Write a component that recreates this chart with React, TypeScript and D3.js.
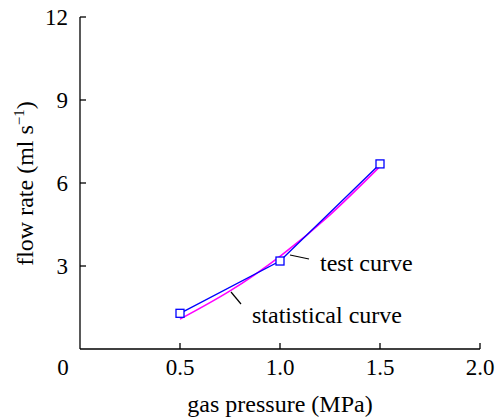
import React from "react";
import * as d3 from "d3";

const testX = [0.5, 1.0, 1.5];
const testY = [1.29, 3.18, 6.69];
const statX = [0.5, 0.75, 1.0, 1.25, 1.5];
const statY = [1.08, 2.1, 3.35, 4.85, 6.6];
const xTicks = [0.5, 1.0, 1.5, 2.0];
const yTicks = [3, 6, 9, 12];

const FS = { fontFamily: `"Liberation Serif"` };

export default function App() {
  const W = 496, H = 418;
  const x = d3.scaleLinear().domain([0, 2]).range([80, 480]);
  const y = d3.scaleLinear().domain([0, 12]).range([349, 17]);
  const line = d3.line<[number, number]>().x(d => x(d[0])).y(d => y(d[1]));
  const curve = d3.line<[number, number]>().x(d => x(d[0])).y(d => y(d[1])).curve(d3.curveNatural);
  const testPts = testX.map((v, i) => [v, testY[i]] as [number, number]);
  const statPts = statX.map((v, i) => [v, statY[i]] as [number, number]);
  return (
    <svg width={W} height={H} style={{ position: "absolute", left: 0, top: 0 }}>
      <rect width={W} height={H} fill="#fff" />
      <g stroke="#000" strokeWidth={1.3} fill="none">
        <line x1={x(0)} x2={x(0)} y1={y(12)} y2={y(0)} />
        <line x1={x(0)} x2={x(2)} y1={y(0)} y2={y(0)} />
        {yTicks.map(t => <line key={t} x1={x(0)} x2={x(0) + 6} y1={y(t)} y2={y(t)} />)}
        {xTicks.map(t => <line key={t} x1={x(t)} x2={x(t)} y1={y(0)} y2={y(0) - 6} />)}
      </g>
      <g fill="#000">
        {yTicks.map(t => (
          <text key={t} style={FS} fontSize={23} x={x(0) - 12} y={y(t)} dy="0.33em" textAnchor="end">{t}</text>
        ))}
        {xTicks.map(t => (
          <text key={t} style={FS} fontSize={23} x={x(t)} y={y(0) + 26} textAnchor="middle">{t.toFixed(1)}</text>
        ))}
        <text style={FS} fontSize={23} x={x(0) - 17} y={y(0) + 26} textAnchor="middle">0</text>
        <text style={FS} x={280} y={412} textAnchor="middle" fontSize={24}>gas pressure (MPa)</text>
        <text style={FS} transform={`translate(33,183.5) rotate(-90)`} textAnchor="middle" fontSize={24}>
          flow rate (ml s<tspan dy={-9} fontSize={15}>−1</tspan><tspan dy={9}>)</tspan>
        </text>
        <text style={FS} x={320} y={271} fontSize={24}>test curve</text>
        <text style={FS} x={252} y={323} fontSize={24}>statistical curve</text>
      </g>
      <g stroke="#000" strokeWidth={1.2}>
        <line x1={290} y1={255} x2={309} y2={259} />
        <line x1={231} y1={292} x2={241} y2={304} />
      </g>
      <path d={curve(statPts) || ""} fill="none" stroke="#ff00ff" strokeWidth={1.6} />
      <path d={line(testPts) || ""} fill="none" stroke="#0000ff" strokeWidth={1.4} />
      {testPts.map((p, i) => (
        <rect key={i} x={x(p[0]) - 4} y={y(p[1]) - 4} width={8} height={8} fill="#fff" stroke="#0000ff" strokeWidth={1.3} />
      ))}
    </svg>
  );
}
